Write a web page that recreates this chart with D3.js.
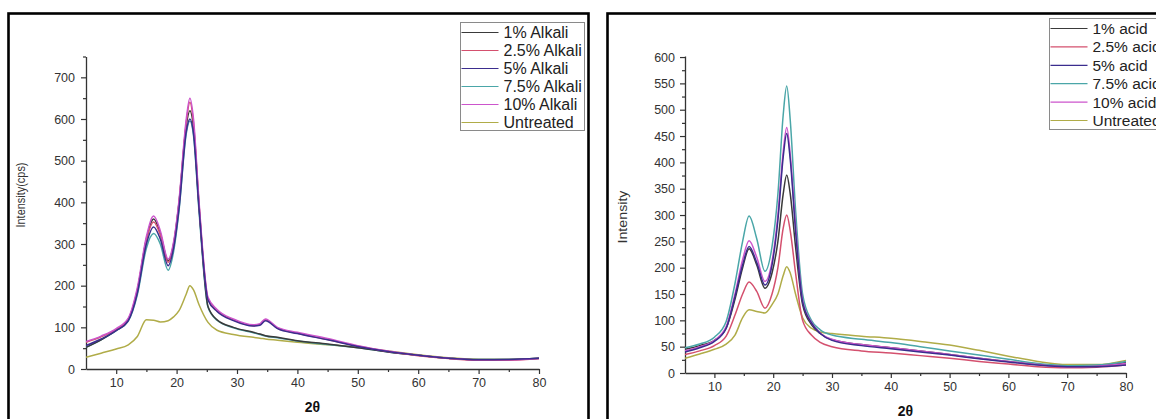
<!DOCTYPE html>
<html>
<head>
<meta charset="utf-8">
<script src="https://cdn.jsdelivr.net/npm/d3@7"></script>
<style>
  html, body { margin: 0; padding: 0; background: #fff; }
  svg { display: block; font-family: "Liberation Sans", Arial, sans-serif; }
</style>
</head>
<body>
<svg id="chart" width="1156" height="419"></svg>
<script>
// ---- Alkali-treated samples (2θ in degrees, intensity in cps) ----
const twoThetaAlkali = [5, 7.5, 10, 12, 13.5, 15, 16.2, 17.3, 18.6, 19.5, 20.4, 21.6, 22.2, 22.8, 23.7, 25.2, 26.7, 29.4, 32.7, 33.8, 34.7, 36.7, 40, 45, 50, 55, 60, 65, 70, 75, 80];
const alkali1   = [52, 70, 93, 118, 188, 312, 360, 326, 260, 300, 400, 585, 620, 580, 395, 150, 118, 100, 88, 84, 80, 76, 68, 60, 51, 41, 33, 26, 23, 23, 26];
const alkali2_5 = [64, 77, 95, 120, 190, 310, 353, 322, 256, 298, 398, 592, 640, 590, 398, 168, 140, 118, 104, 107, 118, 98, 86, 71, 55, 42, 32, 25, 21, 21, 25];
const alkali5   = [56, 72, 92, 116, 182, 300, 341, 312, 248, 290, 385, 570, 600, 565, 388, 165, 138, 116, 103, 105, 116, 97, 85, 70, 54, 42, 33, 26, 22, 23, 26];
const alkali7_5 = [52, 70, 92, 115, 178, 290, 325, 300, 237, 282, 380, 565, 595, 560, 380, 148, 117, 99, 87, 83, 79, 75, 67, 59, 51, 41, 33, 26, 23, 23, 26];
const alkali10  = [66, 79, 97, 122, 195, 318, 367, 332, 264, 305, 405, 600, 650, 600, 405, 172, 143, 120, 106, 109, 120, 100, 88, 73, 56, 43, 33, 26, 22, 22, 25];
const untreatedA = [28, 38, 48, 58, 78, 118, 117, 113, 116, 125, 140, 180, 200, 190, 155, 112, 93, 83, 76, 74, 72, 69, 64, 58, 52, 43, 34, 27, 23, 23, 25];
const alkaliLabels = ["1% Alkali", "2.5% Alkali", "5% Alkali", "7.5% Alkali", "10% Alkali", "Untreated"];
const alkaliYTicks = [0, 100, 200, 300, 400, 500, 600, 700];

// ---- Acid-treated samples ----
const twoThetaAcid = [5, 7.5, 10, 12, 13.5, 14.8, 15.9, 17.2, 18.6, 19.8, 20.8, 21.7, 22.3, 22.9, 23.8, 25, 26.5, 28, 30, 35, 40, 45, 50, 55, 60, 65, 70, 75, 80];
const acid1   = [45, 52, 62, 85, 140, 200, 236, 205, 161, 190, 250, 340, 376, 340, 240, 130, 92, 75, 63, 54, 48, 42, 35, 28, 22, 16, 13, 14, 20];
const acid2_5 = [35, 42, 52, 70, 110, 150, 173, 155, 123, 150, 200, 275, 300, 270, 190, 100, 72, 58, 50, 42, 38, 33, 28, 22, 17, 12, 10, 11, 15];
const acid5   = [40, 48, 60, 85, 145, 205, 240, 210, 167, 205, 290, 410, 455, 405, 270, 135, 95, 75, 62, 52, 46, 40, 34, 27, 21, 15, 12, 12, 15];
const acid7_5 = [48, 55, 68, 98, 170, 250, 298, 255, 193, 240, 340, 490, 545, 480, 310, 150, 100, 82, 72, 64, 58, 50, 42, 34, 26, 18, 14, 15, 22];
const acid10  = [42, 50, 62, 88, 150, 215, 251, 220, 174, 212, 300, 420, 466, 415, 280, 138, 96, 76, 64, 54, 48, 42, 35, 28, 22, 16, 12, 13, 18];
const untreatedB = [28, 36, 45, 55, 72, 105, 120, 117, 114, 130, 150, 185, 202, 190, 150, 105, 85, 78, 75, 70, 66, 60, 53, 43, 32, 22, 16, 16, 24];
const acidLabels = ["1% acid", "2.5% acid", "5% acid", "7.5% acid", "10% acid", "Untreated"];
const acidYTicks = [0, 50, 100, 150, 200, 250, 300, 350, 400, 450, 500, 550, 600];

const xTicks = [10, 20, 30, 40, 50, 60, 70, 80];
const seriesColors = ["#3a3a3a", "#d4506e", "#3b2d8e", "#4aa6a8", "#cc55cc", "#b0ac48"];

const svg = d3.select("#chart");

function drawPanel(cfg) {
  const g = svg.append("g");

  // outer frame
  g.append("rect")
    .attr("x", cfg.frame[0]).attr("y", cfg.frame[1])
    .attr("width", cfg.frame[2]).attr("height", cfg.frame[3])
    .attr("fill", "none").attr("stroke", "#000").attr("stroke-width", 2.6);

  const x = d3.scaleLinear().domain([5, 80]).range([cfg.left, cfg.right]);
  const y = d3.scaleLinear().domain(cfg.yDomain).range([cfg.bottom, cfg.top]);

  // x axis with major and minor ticks
  const xAxis = g.append("g").attr("transform", `translate(0,${cfg.bottom})`);
  xAxis.call(d3.axisBottom(x).tickValues(xTicks).tickSize(5).tickPadding(4).tickSizeOuter(0));
  xAxis.append("g").call(d3.axisBottom(x).tickValues(d3.range(15, 80, 10)).tickSize(3).tickFormat("").tickSizeOuter(0))
    .select(".domain").remove();
  // y axis
  const yAxis = g.append("g").attr("transform", `translate(${cfg.left},0)`);
  yAxis.call(d3.axisLeft(y).tickValues(cfg.yTicks).tickSize(5).tickPadding(cfg.yPad).tickSizeOuter(0));
  yAxis.append("g").call(d3.axisLeft(y).tickValues(cfg.yMinor).tickSize(3).tickFormat("").tickSizeOuter(0))
    .select(".domain").remove();

  g.selectAll(".domain").attr("stroke", "#333").attr("stroke-width", 1.3);
  g.selectAll(".tick line").attr("stroke", "#333").attr("stroke-width", 1.2);
  g.selectAll(".tick text")
    .attr("fill", "#333")
    .style("font-size", cfg.tickFont + "px")
    .style("font-family", "'Liberation Sans', Arial, sans-serif");

  // axis titles
  g.append("text")
    .attr("x", (cfg.left + cfg.right) / 2).attr("y", cfg.xTitleY)
    .attr("text-anchor", "middle")
    .style("font-size", "14px").style("font-weight", "bold").attr("fill", "#111")
    .text("2θ");
  g.append("text")
    .attr("transform", `translate(${cfg.yTitleX},${cfg.yTitleY}) rotate(-90)`)
    .attr("text-anchor", "middle").attr("dominant-baseline", "middle")
    .attr("textLength", cfg.yTitleLen).attr("lengthAdjust", "spacingAndGlyphs")
    .style("font-size", "12px").attr("fill", "#333")
    .text(cfg.yTitle);

  // diffraction curves
  const clipId = "clip-" + cfg.id;
  g.append("clipPath").attr("id", clipId).append("rect")
    .attr("x", cfg.left).attr("y", cfg.top - 5)
    .attr("width", cfg.right - cfg.left + 2).attr("height", cfg.bottom - cfg.top + 5);
  const line = d3.line()
    .x((d, i) => x(cfg.xs[i]))
    .y(d => y(d))
    .curve(d3.curveMonotoneX);
  const plot = g.append("g").attr("clip-path", `url(#${clipId})`);
  cfg.order.forEach(k => {
    plot.append("path")
      .datum(cfg.series[k])
      .attr("d", line)
      .attr("fill", "none")
      .attr("stroke", seriesColors[k])
      .attr("stroke-width", 1.5)
      .attr("stroke-linejoin", "round");
  });

  // legend
  const lg = g.append("g");
  lg.append("rect")
    .attr("x", cfg.legend.x).attr("y", cfg.legend.y)
    .attr("width", cfg.legend.w).attr("height", cfg.legend.h)
    .attr("fill", "#fff").attr("stroke", "#8a8a8a").attr("stroke-width", 1);
  cfg.labels.forEach((lab, i) => {
    const ry = cfg.legend.y + cfg.legend.first + i * cfg.legend.step;
    lg.append("line")
      .attr("x1", cfg.legend.x + 1).attr("x2", cfg.legend.x + cfg.legend.lineLen)
      .attr("y1", ry).attr("y2", ry)
      .attr("stroke", seriesColors[i]).attr("stroke-width", 1.2);
    lg.append("text")
      .attr("x", cfg.legend.x + cfg.legend.lineLen + 5).attr("y", ry)
      .attr("dominant-baseline", "central")
      .style("font-size", cfg.legend.font + "px").attr("fill", "#222")
      .text(lab);
  });
}

drawPanel({
  id: "alkali",
  frame: [8.5, 13.5, 580, 430],
  left: 86, right: 539, top: 56.5, bottom: 369,
  yDomain: [0, 750], yTicks: alkaliYTicks, yMinor: d3.range(50, 751, 100),
  yPad: 6, tickFont: 12.5,
  xTitleY: 412, yTitle: "Intensity(cps)", yTitleX: 22, yTitleY: 195, yTitleLen: 65,
  xs: twoThetaAlkali,
  series: [alkali1, alkali2_5, alkali5, alkali7_5, alkali10, untreatedA],
  order: [5, 3, 0, 1, 4, 2],
  labels: alkaliLabels,
  legend: { x: 460.5, y: 22.5, w: 124, h: 108, first: 10, step: 18, lineLen: 38, font: 16 }
});

drawPanel({
  id: "acid",
  frame: [607.5, 13.5, 580, 430],
  left: 685, right: 1126, top: 56, bottom: 373,
  yDomain: [0, 602], yTicks: acidYTicks, yMinor: d3.range(25, 600, 50),
  yPad: 5, tickFont: 12.5,
  xTitleY: 416, yTitle: "Intensity", yTitleX: 624, yTitleY: 217, yTitleLen: 53,
  xs: twoThetaAcid,
  series: [acid1, acid2_5, acid5, acid7_5, acid10, untreatedB],
  order: [5, 1, 0, 3, 4, 2],
  labels: acidLabels,
  legend: { x: 1049.5, y: 18.5, w: 130, h: 111, first: 10, step: 18.4, lineLen: 38, font: 15.5 }
});
</script>
</body>
</html>
